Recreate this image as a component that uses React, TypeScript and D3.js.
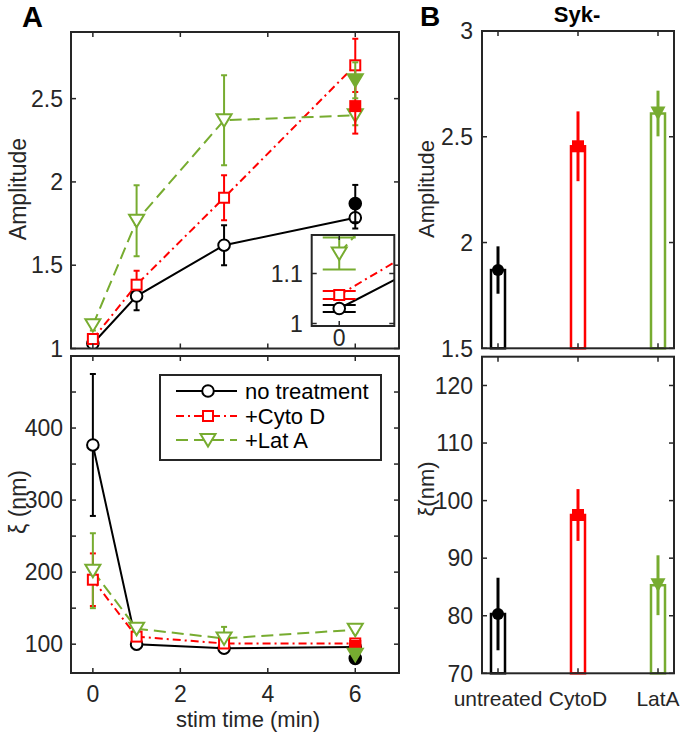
import React from 'react';
import * as d3 from 'd3';

// ---------- data ----------
const times = [0, 1, 3, 6];
const seriesNames = ['no treatment', '+Cyto D', '+Lat A'];

const ampNone = [1.03, 1.315, 1.62, 1.785];
const ampNoneErr = [0.007, 0.085, 0.12, 0.065];
const ampCyto = [1.057, 1.383, 1.905, 2.7];
const ampCytoErr = [0.008, 0.083, 0.135, 0.16];
const ampLat = [1.14, 1.767, 2.37, 2.4];
const ampLatErr = [0.032, 0.213, 0.27, 0.06];

const xiNone = [376.5, 100, 94.5, 96];
const xiNoneErr = [98.5, 7, 3, 3];
const xiCyto = [189.5, 110.5, 101, 101];
const xiCytoErr = [36.5, 4, 3, 3];
const xiLat = [202, 121.5, 108, 120];
const xiLatErr = [52, 5, 16, 4];

const sykCategories = ['untreated', 'CytoD', 'LatA'];
const sykTime = 6;
const sykAmp = [1.87, 2.455, 2.61];
const sykAmpErr = [0.112, 0.165, 0.108];
const sykXi = [80.3, 97.5, 85.3];
const sykXiErr = [6.3, 4.5, 5.2];

const timeTicks = [0, 2, 4, 6];
const ampTicks = [1, 1.5, 2, 2.5];
const xiTicks = [100, 150, 200, 250, 300, 350, 400, 450];
const xiTickLabels = [100, 200, 300, 400];
const insetXTicks = [0];
const insetYTicks = [1, 1.1];
const sykAmpTicks = [1.5, 2, 2.5, 3];
const sykXiTicks = [70, 80, 90, 100, 110, 120];

// ---------- style ----------
const FONT = '"Liberation Sans", Arial, Helvetica, sans-serif';
const AX = '#262626';
const COLORS = ['#000000', '#ff0000', '#77ac30'];
const MARKERS = ['circle', 'square', 'triangle'];
const DASH = [undefined, '8,4,2,4', '12,6'];

function Marker({ type, x, y, color, filled }: any) {
  const fill = filled ? color : 'white';
  if (type === 'circle') return <circle cx={x} cy={y} r={5.8} fill={fill} stroke={color} strokeWidth={2} />;
  if (type === 'square') return <rect x={x - 5} y={y - 5} width={10} height={10} fill={fill} stroke={color} strokeWidth={2} />;
  return <polygon points={`${x - 7.5},${y - 6} ${x + 7.5},${y - 6} ${x},${y + 6.5}`} fill={fill} stroke={color} strokeWidth={2} strokeLinejoin="miter" />;
}

function ErrBar({ x, y0, y1, color, cap, width }: any) {
  return (
    <g stroke={color} strokeWidth={width || 2}>
      <line x1={x} x2={x} y1={y0} y2={y1} />
      {cap ? <line x1={x - cap} x2={x + cap} y1={y0} y2={y0} /> : null}
      {cap ? <line x1={x - cap} x2={x + cap} y1={y1} y2={y1} /> : null}
    </g>
  );
}

function Frame({ xs, ys, xt, yt, yLabels, xLabels, yFmt, tickLen = 5, labelGap = 8, fontSize = 23, xFontSize, xLabelY }: any) {
  const [x0, x1] = xs.range();
  const [yb, ytp] = ys.range();
  return (
    <g>
      {yt.map((v: number, i: number) => (
        <g key={'y' + i} stroke={AX} strokeWidth={1.5}>
          <line x1={x0} x2={x0 + tickLen} y1={ys(v)} y2={ys(v)} />
          <line x1={x1} x2={x1 - tickLen} y1={ys(v)} y2={ys(v)} />
        </g>
      ))}
      {xt.map((v: number, i: number) => (
        <g key={'x' + i} stroke={AX} strokeWidth={1.5}>
          <line x1={xs(v)} x2={xs(v)} y1={yb} y2={yb - tickLen} />
          <line x1={xs(v)} x2={xs(v)} y1={ytp} y2={ytp + tickLen} />
        </g>
      ))}
      <rect x={x0} y={ytp} width={x1 - x0} height={yb - ytp} fill="none" stroke={AX} strokeWidth={2} />
      {(yLabels || []).map((v: number, i: number) => (
        <text key={'yl' + i} x={x0 - labelGap} y={ys(v)} dy="0.36em" textAnchor="end" fontSize={fontSize} fill={AX} fontFamily={FONT}>
          {yFmt ? yFmt(v) : String(v)}
        </text>
      ))}
      {(xLabels || []).map((v: any, i: number) => (
        <text key={'xl' + i} x={xs(v.pos)} y={xLabelY} textAnchor="middle" fontSize={xFontSize || fontSize} fill={AX} fontFamily={FONT}>
          {v.text}
        </text>
      ))}
    </g>
  );
}

export default function App() {
  const W = 683, H = 732;
  const xL = d3.scaleLinear().domain([-0.5, 7]).range([71, 399]);
  const yAmp = d3.scaleLinear().domain([1, 2.9]).range([348.5, 32]);
  const yXi = d3.scaleLinear().domain([60, 500]).range([673, 356]);
  const xR = d3.scaleLinear().domain([0.8, 3.2]).range([482, 674]);
  const ySA = d3.scaleLinear().domain([1.5, 3]).range([348.3, 31]);
  const ySX = d3.scaleLinear().domain([70, 125]).range([673.3, 356.7]);
  const xI = d3.scaleLinear().domain([-0.1, 0.2]).range([311.7, 394.3]);
  const yI = d3.scaleLinear().domain([0.995, 1.177]).range([326, 235]);

  const ampSeries = [
    { v: ampNone, e: ampNoneErr },
    { v: ampCyto, e: ampCytoErr },
    { v: ampLat, e: ampLatErr },
  ];
  const xiSeries = [
    { v: xiNone, e: xiNoneErr },
    { v: xiCyto, e: xiCytoErr },
    { v: xiLat, e: xiLatErr },
  ];

  const renderSeries = (series: any[], xs: any, ys: any, cap: number, clip: string, keyp: string) => {
    const lineGen = d3.line<number>().x((_, i) => xs(times[i])).y((d) => ys(d));
    return (
      <g clipPath={`url(#${clip})`}>
        {series.map((s, k) => (
          <path key={keyp + 'l' + k} d={lineGen(s.v) || ''} fill="none" stroke={COLORS[k]} strokeWidth={2} strokeDasharray={DASH[k]} />
        ))}
        {series.map((s, k) =>
          s.v.map((v: number, i: number) => (
            <ErrBar key={keyp + 'e' + k + i} x={xs(times[i])} y0={ys(v + s.e[i])} y1={ys(v - s.e[i])} color={COLORS[k]} cap={cap} />
          ))
        )}
        {series.map((s, k) =>
          s.v.map((v: number, i: number) => (
            <Marker key={keyp + 'm' + k + i} type={MARKERS[k]} x={xs(times[i])} y={ys(v)} color={COLORS[k]} filled={false} />
          ))
        )}
      </g>
    );
  };

  const renderSykOverlay = (vals: number[], errs: number[], ys: any, keyp: string) => (
    <g>
      {vals.map((v, k) => (
        <ErrBar key={keyp + 'se' + k} x={xL(sykTime)} y0={ys(v + errs[k])} y1={ys(v - errs[k])} color={COLORS[k]} cap={3} />
      ))}
      {vals.map((v, k) => (
        <Marker key={keyp + 'sm' + k} type={MARKERS[k]} x={xL(sykTime)} y={ys(v)} color={COLORS[k]} filled={true} />
      ))}
    </g>
  );

  const renderBars = (vals: number[], errs: number[], ys: any, keyp: string) => {
    const base = ys.domain()[0];
    return (
      <g>
        {vals.map((v, k) => (
          <rect key={keyp + 'b' + k} x={xR(k + 1) - 7} y={ys(v)} width={14} height={ys(base) - ys(v)} fill="none" stroke={COLORS[k]} strokeWidth={2.5} />
        ))}
        {vals.map((v, k) => (
          <ErrBar key={keyp + 'be' + k} x={xR(k + 1)} y0={ys(v + errs[k])} y1={ys(v - errs[k])} color={COLORS[k]} width={3} />
        ))}
        {vals.map((v, k) => {
          const x = xR(k + 1), y = ys(v);
          if (MARKERS[k] === 'circle') return <circle key={keyp + 'bm' + k} cx={x} cy={y} r={6} fill={COLORS[k]} />;
          if (MARKERS[k] === 'square') return <rect key={keyp + 'bm' + k} x={x - 6} y={y - 6} width={12} height={12} fill={COLORS[k]} />;
          return <polygon key={keyp + 'bm' + k} points={`${x - 7.5},${y - 7} ${x + 7.5},${y - 7} ${x},${y + 7}`} fill={COLORS[k]} />;
        })}
      </g>
    );
  };

  const lgX0 = 176, lgX1 = 237, lgM = 208, lgText = 245;
  const lgRows = [391, 416, 440];

  return (
    <svg width={W} height={H} style={{ position: 'absolute', left: 0, top: 0, background: 'white' }} fontFamily={FONT}>
      <defs>
        <clipPath id="clipTL"><rect x={71} y={32} width={328} height={316.5} /></clipPath>
        <clipPath id="clipBL"><rect x={71} y={356} width={328} height={317} /></clipPath>
        <clipPath id="clipIn"><rect x={311.7} y={235} width={82.6} height={91} /></clipPath>
      </defs>
      <rect x={0} y={0} width={W} height={H} fill="white" />

      {/* Panel labels */}
      <text x={22} y={27} fontSize={29} fontWeight="bold" fill="#000">A</text>
      <text x={420} y={26} fontSize={28} fontWeight="bold" fill="#000">B</text>
      <text x={577} y={22} fontSize={22} fontWeight="bold" textAnchor="middle" fill="#000">Syk-</text>

      {/* Top-left amplitude vs time */}
      {renderSeries(ampSeries, xL, yAmp, 3, 'clipTL', 'a')}
      {renderSykOverlay(sykAmp, sykAmpErr, yAmp, 'a')}
      <Frame xs={xL} ys={yAmp} xt={timeTicks} yt={ampTicks} yLabels={ampTicks} />
      <text transform="translate(26,189) rotate(-90)" textAnchor="middle" fontSize={23} fill={AX}>Amplitude</text>

      {/* Inset */}
      <rect x={311.7} y={235} width={82.6} height={91} fill="white" />
      {renderSeries(ampSeries, xI, yI, 16.5, 'clipIn', 'i')}
      <Frame xs={xI} ys={yI} xt={insetXTicks} yt={insetYTicks} yLabels={insetYTicks}
        xLabels={insetXTicks.map((t) => ({ pos: t, text: String(t) }))} xLabelY={346} labelGap={9} />

      {/* Bottom-left xi vs time */}
      {renderSeries(xiSeries, xL, yXi, 3, 'clipBL', 'x')}
      {renderSykOverlay(sykXi, sykXiErr, yXi, 'x')}
      <Frame xs={xL} ys={yXi} xt={timeTicks} yt={xiTicks} yLabels={xiTickLabels}
        xLabels={timeTicks.map((t) => ({ pos: t, text: String(t) }))} xLabelY={702} />
      <text transform="translate(26,502) rotate(-90)" textAnchor="middle" fontSize={23} fill={AX}>ξ (nm)</text>
      <text x={248} y={727} textAnchor="middle" fontSize={22} fill={AX}>stim time (min)</text>

      {/* Legend */}
      <rect x={160} y={375} width={221} height={85} fill="white" stroke={AX} strokeWidth={2} />
      {seriesNames.map((name, k) => (
        <g key={'lg' + k}>
          <line x1={lgX0} x2={lgX1} y1={lgRows[k]} y2={lgRows[k]} stroke={COLORS[k]} strokeWidth={2} strokeDasharray={DASH[k]} />
          <Marker type={MARKERS[k]} x={lgM} y={lgRows[k]} color={COLORS[k]} filled={false} />
          <text x={lgText} y={lgRows[k]} dy="0.36em" fontSize={22} fill="#000">{name}</text>
        </g>
      ))}

      {/* Top-right bars */}
      {renderBars(sykAmp, sykAmpErr, ySA, 'ra')}
      <Frame xs={xR} ys={ySA} xt={[1, 2, 3]} yt={sykAmpTicks} yLabels={sykAmpTicks} labelGap={9} />
      <text transform="translate(434,189) rotate(-90)" textAnchor="middle" fontSize={22} fill={AX}>Amplitude</text>

      {/* Bottom-right bars */}
      {renderBars(sykXi, sykXiErr, ySX, 'rx')}
      <Frame xs={xR} ys={ySX} xt={[1, 2, 3]} yt={sykXiTicks} yLabels={sykXiTicks} labelGap={9}
        xLabels={sykCategories.map((c, i) => ({ pos: i + 1, text: c }))} xLabelY={706} xFontSize={21} />
      <text transform="translate(434,489) rotate(-90)" textAnchor="middle" fontSize={22} fill={AX}>ξ(nm)</text>
    </svg>
  );
}
